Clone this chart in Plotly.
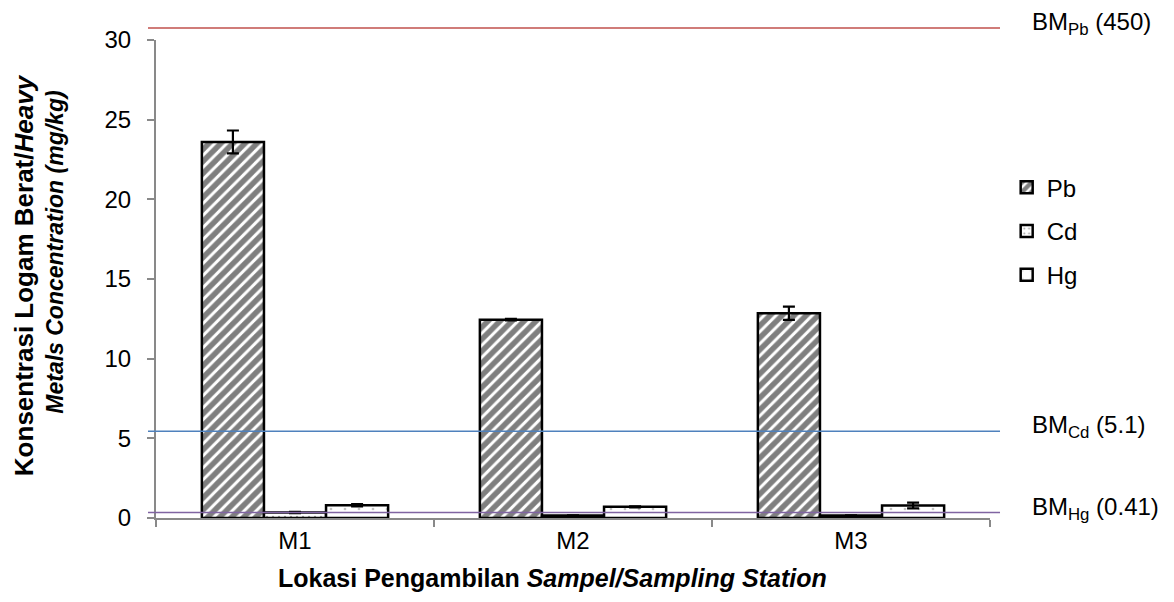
import plotly.graph_objects as go

stations = ["M1", "M2", "M3"]
metals = ["Pb", "Cd", "Hg"]
pb_vals = [23.6, 12.45, 12.85]
pb_err = [0.72, 0.05, 0.42]
cd_vals = [0.35, 0.15, 0.15]
cd_err = [0.04, 0.01, 0.01]
hg_vals = [0.80, 0.70, 0.78]
hg_err = [0.07, 0.03, 0.18]

# threshold lines (drawn positions) and labels
bm_pos = [30.75, 5.45, 0.35]
bm_labels = ["BM<sub>Pb</sub> (450)", "BM<sub>Cd</sub> (5.1)", "BM<sub>Hg</sub> (0.41)"]
bm_colors = ["#C0504D", "#4F81BD", "#8064A2"]
bm_label_shift = [5, 5, 4]

y_title_lines = ["<b>Konsentrasi Logam Berat/<i>Heavy</i></b>",
                 "<b><i>Metals Concentration (mg/kg)</i></b>"]
x_title = "<b>Lokasi Pengambilan <i>Sampel/Sampling Station</i></b>"

Y_MAX = 30
y_ticks = [0, 5, 10, 15, 20, 25, 30]

FONT = "Liberation Sans, Arial, sans-serif"

patterns = [
    dict(shape="/", fgcolor="black", bgcolor="white", size=8.5, solidity=0.64),
    dict(shape=".", fgcolor="#444444", bgcolor="white", size=6, solidity=0.12),
    dict(shape=".", fgcolor="#888888", bgcolor="white", size=14, solidity=0.03),
]

fig = go.Figure()
for i, (name, vals, errs) in enumerate(zip(metals, [pb_vals, cd_vals, hg_vals], [pb_err, cd_err, hg_err])):
    fig.add_trace(go.Bar(
        x=stations, y=vals, name=name, legendgroup=name,
        marker=dict(color="white", line=dict(color="black", width=2.5), pattern=patterns[i]),
        error_y=dict(type="data", array=errs, visible=True, color="black", thickness=2.2, width=6),
    ))

for pos, lab, col, sh in zip(bm_pos, bm_labels, bm_colors, bm_label_shift):
    fig.add_shape(type="line", xref="paper", yref="paper", x0=-0.0096, x1=1.012,
                  y0=pos / Y_MAX, y1=pos / Y_MAX, line=dict(color=col, width=1.5), layer="above")
    fig.add_annotation(xref="paper", yref="paper", x=1.048, y=pos / Y_MAX, yshift=sh,
                       text=lab, showarrow=False, xanchor="left", yanchor="middle",
                       font=dict(family=FONT, size=24, color="black"))

for xp, yp, fs, line in zip([-0.1583, -0.1211], [0.508, 0.555], [26, 23], y_title_lines):
    fig.add_annotation(xref="paper", yref="paper", x=xp, y=yp, textangle=-90,
                       text=line, showarrow=False, xanchor="center", yanchor="middle",
                       font=dict(family=FONT, size=fs, color="black"))
fig.add_annotation(xref="paper", yref="paper", x=0.475, y=-0.1255,
                   text=x_title, showarrow=False, xanchor="center", yanchor="middle",
                   font=dict(family=FONT, size=25, color="black"))

# page body has an 8px default margin: figure is sized so the plot area lands where the reference has it
fig.update_layout(
    width=1166, height=594,
    margin=dict(l=148, r=184, t=32, b=84),
    paper_bgcolor="white", plot_bgcolor="white",
    barmode="group", bargap=0.33, bargroupgap=0,
    font=dict(family=FONT, size=24, color="black"),
    showlegend=True,
    legend=dict(x=1.020, y=0.600, xanchor="left", yanchor="middle",
                traceorder="grouped", tracegroupgap=9.5,
                font=dict(family=FONT, size=24, color="black"),
                itemwidth=30, bgcolor="rgba(0,0,0,0)"),
    xaxis=dict(showline=True, linecolor="#898989", linewidth=2, ticks="outside",
               tickson="boundaries", ticklen=7, tickwidth=2, tickcolor="#898989",
               showgrid=False, tickfont=dict(family=FONT, size=24, color="black")),
    yaxis=dict(range=[0, Y_MAX], tickvals=y_ticks, showline=True, linecolor="#898989",
               linewidth=2, ticks="outside", ticklen=7, tickwidth=2, tickcolor="#898989",
               showgrid=False, zeroline=False, ticklabelstandoff=11,
               tickfont=dict(family=FONT, size=24, color="black")),
)

fig.write_html("out.html")
